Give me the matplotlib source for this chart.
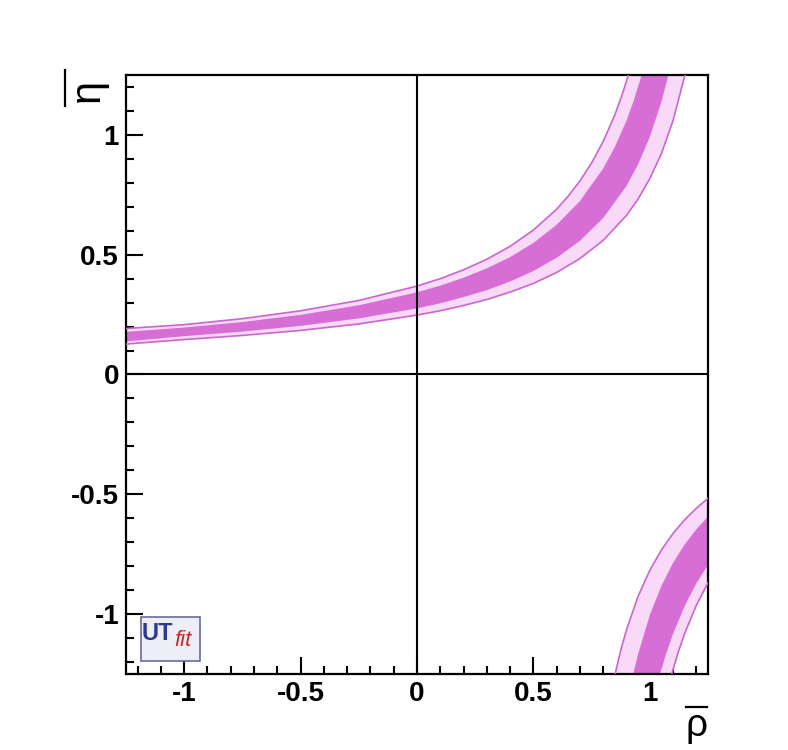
import matplotlib
matplotlib.use('Agg')
import matplotlib.pyplot as plt
from matplotlib.patches import Polygon, Rectangle
from matplotlib.lines import Line2D
from matplotlib.ticker import MultipleLocator

plt.rcParams['font.family'] = ['Liberation Sans', 'DejaVu Sans']

# upper branch, band edges (rho, eta)
up_outer_hi = [(-1.25, 0.192), (-1.0, 0.208), (-0.75, 0.233), (-0.5, 0.266), (-0.25, 0.309),
               (0.0, 0.369), (0.1, 0.400), (0.2, 0.437), (0.3, 0.481), (0.4, 0.535),
               (0.5, 0.603), (0.6, 0.690), (0.65, 0.745), (0.7, 0.808), (0.75, 0.883),
               (0.8, 0.973), (0.85, 1.084), (0.88, 1.164), (0.908, 1.25)]
up_inner_hi = [(-1.25, 0.178), (-1.0, 0.196), (-0.75, 0.219), (-0.5, 0.249), (-0.25, 0.289),
               (0.0, 0.343), (0.1, 0.371), (0.2, 0.404), (0.3, 0.443), (0.4, 0.490),
               (0.5, 0.549), (0.6, 0.625), (0.7, 0.724), (0.8, 0.860), (0.85, 0.950),
               (0.9, 1.060), (0.93, 1.14), (0.965, 1.25)]
up_inner_lo = [(-1.25, 0.138), (-1.0, 0.160), (-0.75, 0.179), (-0.5, 0.203), (-0.25, 0.234),
               (0.0, 0.276), (0.1, 0.297), (0.2, 0.323), (0.3, 0.352), (0.4, 0.388),
               (0.5, 0.432), (0.6, 0.487), (0.7, 0.558), (0.8, 0.653), (0.9, 0.787),
               (0.95, 0.877), (1.0, 0.991), (1.05, 1.138), (1.08, 1.25)]
up_outer_lo = [(-1.25, 0.127), (-1.0, 0.146), (-0.75, 0.163), (-0.5, 0.184), (-0.25, 0.211),
               (0.0, 0.248), (0.1, 0.266), (0.2, 0.288), (0.3, 0.313), (0.4, 0.344),
               (0.5, 0.380), (0.6, 0.426), (0.7, 0.484), (0.8, 0.560), (0.9, 0.664),
               (0.95, 0.733), (1.0, 0.817), (1.05, 0.922), (1.10, 1.060), (1.151, 1.25)]

# lower branch
lo_outer_hi = [(0.851, -1.25), (0.875, -1.152), (0.9, -1.065), (0.95, -0.925), (1.0, -0.817),
               (1.05, -0.732), (1.1, -0.663), (1.15, -0.606), (1.2, -0.558), (1.25, -0.517)]
lo_inner_hi = [(0.929, -1.25), (0.95, -1.166), (1.0, -1.004), (1.05, -0.882), (1.1, -0.786),
               (1.15, -0.709), (1.2, -0.646), (1.25, -0.593)]
lo_inner_lo = [(1.044, -1.25), (1.07, -1.166), (1.1, -1.082), (1.15, -0.966), (1.2, -0.872),
               (1.25, -0.795)]
lo_outer_lo = [(1.094, -1.25), (1.12, -1.165), (1.15, -1.080), (1.2, -0.963), (1.25, -0.869)]

light = '#f8daf8'
dark = '#d66ed6'
edge = '#cc66cc'

fig = plt.figure(figsize=(7.88, 7.5), dpi=100)
ax = fig.add_axes([126/788, 1 - 674/750, 582/788, 599/750])
ax.set_xlim(-1.25, 1.25)
ax.set_ylim(-1.25, 1.25)


def band(hi, lo, color, ec=None):
    pts = list(hi) + list(reversed(lo))
    ax.add_patch(Polygon(pts, closed=True, facecolor=color, edgecolor='none', zorder=2))
    if ec:
        for c in (hi, lo):
            ax.plot([p[0] for p in c], [p[1] for p in c], color=ec, lw=1.2, zorder=3)


band(up_outer_hi, up_outer_lo, light, edge)
band(up_inner_hi, up_inner_lo, dark)
band(lo_outer_hi, lo_outer_lo, light, edge)
band(lo_inner_hi, lo_inner_lo, dark)

ax.axhline(0, color='black', lw=1.5, zorder=4)
ax.axvline(0, color='black', lw=1.5, zorder=4)

for s in ax.spines.values():
    s.set_linewidth(1.6)

ax.xaxis.set_minor_locator(MultipleLocator(0.1))
ax.yaxis.set_minor_locator(MultipleLocator(0.1))
ax.tick_params(which='both', direction='in', top=False, right=False, width=1.5)
ax.tick_params(which='major', length=12, labelsize=20, pad=5)
ax.tick_params(which='minor', length=6)
ticks = [-1, -0.5, 0, 0.5, 1]
labels = ['-1', '-0.5', '0', '0.5', '1']
ax.set_xticks(ticks)
ax.set_xticklabels(labels, fontweight='bold')
ax.set_yticks(ticks)
ax.set_yticklabels(labels, fontweight='bold')

# axis titles: upright greek with a bar on top
fig.text(697/788, 1 - 726/750, 'ρ', fontsize=28, ha='center', va='center')
fig.add_artist(Line2D([686/788, 707/788], [1 - 707/750, 1 - 707/750], color='black', lw=1.6))
fig.text(88/788, 1 - 90/750, 'η', fontsize=30, ha='center', va='center', rotation=90)
fig.add_artist(Line2D([65/788, 65/788], [1 - 70/750, 1 - 106/750], color='black', lw=1.6))

# UTfit logo
fig.add_artist(Rectangle((141/788, 1 - 661/750), 59/788, 44/750, transform=fig.transFigure,
                         facecolor='#eeeef6', edgecolor='#6a6a9a', lw=1.2, zorder=5))
fig.text(157/788, 1 - 633/750, 'UT', fontsize=17, color='#2a3a8c', ha='center',
         va='center', fontweight='bold', zorder=6)
fig.text(183/788, 1 - 641/750, 'fit', fontsize=16, color='#d02828', ha='center',
         va='center', style='italic', zorder=6)

fig.savefig('out.png', dpi=100)
